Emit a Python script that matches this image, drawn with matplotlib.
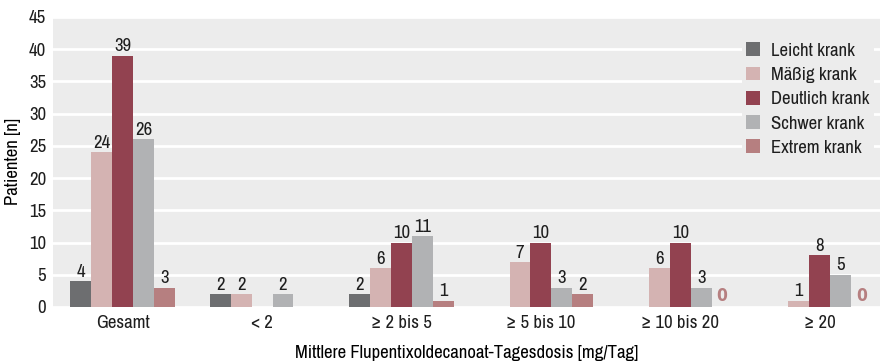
import matplotlib.pyplot as plt
import numpy as np
from matplotlib import font_manager

# dose groups and patient counts per severity (None = no bar, no label)
groups = ["Gesamt", "< 2", "≥ 2 bis 5", "≥ 5 bis 10", "≥ 10 bis 20", "≥ 20"]
series = ["Leicht krank", "Mäßig krank", "Deutlich krank", "Schwer krank", "Extrem krank"]
leicht = [4, 2, 2, None, None, None]
maessig = [24, 2, 6, 7, 6, 1]
deutlich = [39, None, 10, 10, 10, 8]
schwer = [26, 2, 11, 3, 3, 5]
extrem = [3, None, 1, 2, 0, 0]
values = [leicht, maessig, deutlich, schwer, extrem]
colors = ["#6d6e70", "#d4b3b2", "#924250", "#b1b2b4", "#b67f80"]

# prefer a narrow face if one is installed
narrow = sorted({f.name for f in font_manager.fontManager.ttflist
                 if "Narrow" in f.name or "Condensed" in f.name})
fam = narrow[0] if narrow else "DejaVu Sans"
plt.rcParams['font.family'] = [fam, 'DejaVu Sans']
plt.rcParams['font.stretch'] = 'condensed'
plt.rcParams['text.color'] = '#1e1e1e'
fs = 13.5

fig = plt.figure(figsize=(8.84, 3.61), dpi=100)
ax = fig.add_axes([0.06, 0.1496, 0.935, 0.8034])
ax.set_facecolor("#ececec")

x = np.arange(len(groups))
w = 0.15
for i, (name, vals, c) in enumerate(zip(series, values, colors)):
    pos = x + (i - 2) * w
    for p, v in zip(pos, vals):
        if v is None:
            continue
        if v == 0:
            # zero counts: coloured label only, no bar
            ax.text(p, 0.3, "0", ha="center", va="bottom", fontsize=fs - 1,
                    color=c, fontweight="bold", family="DejaVu Sans")
            continue
        ax.bar(p, v, width=w, color=c, zorder=3)
        ax.text(p, v + 0.2, str(v), ha="center", va="bottom", fontsize=fs, zorder=4)
    ax.bar(np.nan, 0, color=c, label=name)

ax.set_ylim(0, 45)
ax.set_xlim(-0.5, 5.43)
ax.set_yticks(range(0, 46, 5))
ax.set_xticks(x)
ax.set_xticklabels(groups)
ax.tick_params(length=0, labelsize=fs, colors="#1e1e1e")
ax.tick_params(axis="x", pad=6)
ax.tick_params(axis="y", pad=5)
ax.grid(axis="y", color="white", linewidth=2, zorder=1)
ax.set_axisbelow(True)
for s in ax.spines.values():
    s.set_visible(False)

ax.set_ylabel("Patienten [n]", fontsize=fs, labelpad=6)
ax.set_xlabel("Mittlere Flupentixoldecanoat-Tagesdosis [mg/Tag]", fontsize=fs, labelpad=10)

leg = ax.legend(loc="upper right", bbox_to_anchor=(1.004, 0.958), frameon=True,
                facecolor="#ececec", edgecolor="none", framealpha=1, fancybox=False,
                fontsize=fs, handlelength=0.75, handleheight=0.75, handletextpad=0.6,
                labelspacing=0.42, borderpad=0.2)
leg.set_zorder(5)

fig.savefig("out.png", dpi=100)
